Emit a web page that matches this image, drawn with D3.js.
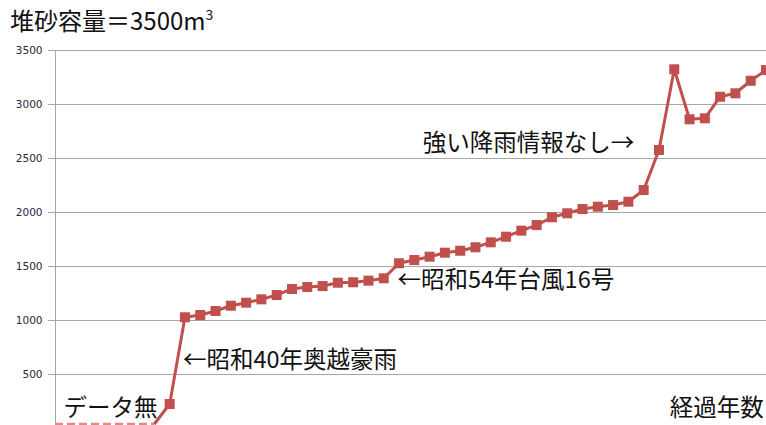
<!DOCTYPE html>
<html>
<head>
<meta charset="utf-8">
<title>堆砂容量</title>
<script src="https://cdn.jsdelivr.net/npm/d3@7"></script>
<style>
  body { margin: 0; background: #fff; }
  svg { display: block; }
  .grid line { stroke: #a6a6a6; stroke-width: 1; shape-rendering: crispEdges; }
  .yaxis text { font-family: "DejaVu Sans", sans-serif; font-size: 10.5px; fill: #262640; }
  .yaxis line, .yaxis path { stroke: #a6a6a6; shape-rendering: crispEdges; }
  .note { font-family: "Noto Sans CJK JP", sans-serif; font-size: 23.5px; fill: #111; }
</style>
</head>
<body>
<svg width="766" height="425"></svg>
<script>
// 経過年数ごとの堆砂量 (m3) — index 0..6 はデータ無し区間
var noDataValues = [40, 40, 40, 40, 40, 40, 40];
var sandValues = [40, 225, 1028, 1049, 1086, 1135, 1163, 1194, 1234, 1290, 1308, 1317,
  1348, 1352, 1367, 1389, 1528, 1558, 1589, 1626, 1644, 1676, 1722, 1774,
  1830, 1882, 1954, 1991, 2030, 2052, 2067, 2098, 2206, 2577, 3324, 2861,
  2870, 3070, 3102, 3218, 3317];
var sandStart = 6; // index of the first value in sandValues
var yTicks = [500, 1000, 1500, 2000, 2500, 3000, 3500];
var notes = [
  { text: "データ無", i: 0.05, v: 114 },
  { text: "←昭和40年奥越豪雨", i: 7.87, v: 558 },
  { text: "←昭和54年台風16号", i: 21.9, v: 1299 },
  { text: "強い降雨情報なし→", i: 23.55, v: 2567 },
  { text: "経過年数", i: 39.7, v: 114 }
];

var svg = d3.select("svg"),
    color = "#c0504d";

var x = d3.scaleLinear().domain([-0.5, 46]).range([55, 766]);
var y = d3.scaleLinear().domain([0, 3500]).range([428.3, 50.3]);

// gridlines
svg.append("g").attr("class", "grid")
  .selectAll("line").data(yTicks).enter().append("line")
  .attr("x1", 48).attr("x2", 766)
  .attr("y1", function(d) { return Math.round(y(d)) + 0.5; })
  .attr("y2", function(d) { return Math.round(y(d)) + 0.5; });

// y axis
var yAxis = svg.append("g").attr("class", "yaxis")
  .attr("transform", "translate(55.5,0)")
  .call(d3.axisLeft(y).tickValues(yTicks).tickFormat(d3.format("d"))
    .tickSize(7).tickPadding(6).tickSizeOuter(0));
yAxis.select(".domain").remove();
svg.append("line")
  .attr("x1", 55.5).attr("x2", 55.5)
  .attr("y1", y(3500)).attr("y2", 425)
  .attr("stroke", "#a6a6a6");

// dashed part (no data)
var dashPts = noDataValues.map(function(v, i) { return [x(i), y(v)]; });
dashPts.unshift([x.range()[0], y(noDataValues[0])]);
svg.append("path")
  .attr("d", d3.line()(dashPts))
  .attr("fill", "none")
  .attr("stroke", "#e08a88")
  .attr("stroke-width", 2.5)
  .attr("stroke-dasharray", "8,4");

// main line
var pts = sandValues.map(function(v, k) { return { i: k + sandStart, v: v }; });
var line = d3.line()
  .x(function(d) { return x(d.i); })
  .y(function(d) { return y(d.v); });

svg.append("path")
  .datum(pts)
  .attr("d", line)
  .attr("fill", "none")
  .attr("stroke", color)
  .attr("stroke-width", 3)
  .attr("stroke-linejoin", "round");

svg.append("g").selectAll("rect")
  .data(pts.slice(1)).enter().append("rect")
  .attr("x", function(d) { return x(d.i) - 5; })
  .attr("y", function(d) { return y(d.v) - 5; })
  .attr("width", 10).attr("height", 10)
  .attr("fill", color);

// title
var title = svg.append("text").attr("class", "note")
  .attr("x", 10).attr("y", 30).style("font-size", "24px");
title.append("tspan").text("堆砂容量＝3500m");
title.append("tspan").attr("dy", -10).style("font-size", "14px").text("3");

// annotations
svg.append("g").selectAll("text")
  .data(notes).enter().append("text")
  .attr("class", "note")
  .attr("x", function(d) { return x(d.i); })
  .attr("y", function(d) { return y(d.v); })
  .text(function(d) { return d.text; });
</script>
</body>
</html>
